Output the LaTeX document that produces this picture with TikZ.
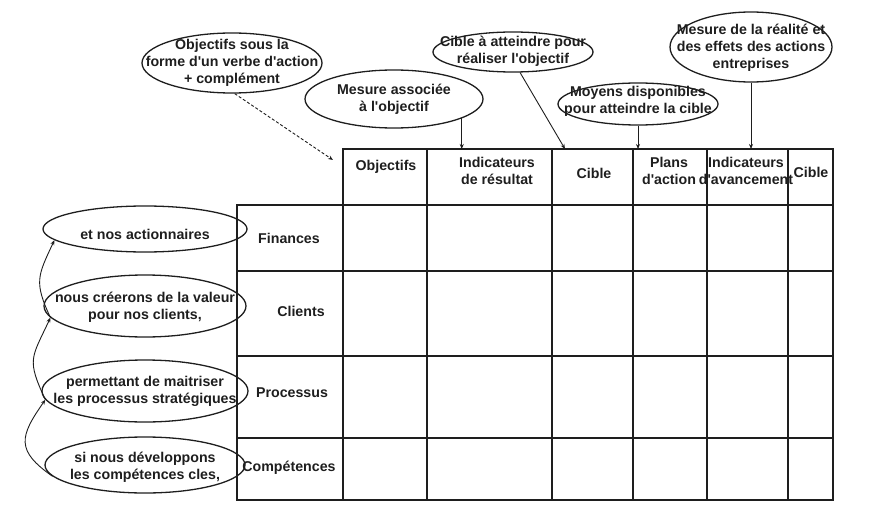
\documentclass[tikz,border=0pt]{standalone}
\usepackage{fontspec}
\setmainfont{Liberation Sans}[Ligatures=TeXOff]
\usetikzlibrary{shapes.geometric,arrows.meta}
\definecolor{ink}{HTML}{1E1E1E}
\begin{document}
\begin{tikzpicture}[x=1pt,y=1pt,
  every node/.style={font=\fontsize{14.2}{17}\selectfont\bfseries, text=ink},
  ell/.style={draw=ink, ellipse, line width=1.3pt, inner sep=0pt},
  lbl/.style={align=center, inner sep=0pt},
  grid/.style={draw=ink, line width=1.2pt},
  arr/.style={draw=ink, line width=0.9pt, -{Stealth[length=5pt,width=4pt]}},
]
\useasboundingbox (0,0) rectangle (872,-508);

% ---- table ----
\coordinate (tl) at (343,-149);
\draw[grid] (343,-149) rectangle (833,-500);
\draw[grid] (237,-205) rectangle (343,-500);
\foreach \y in {205,271,356,438} \draw[grid] (237,-\y) -- (833,-\y);
\foreach \x in {427,552,633,707,788} \draw[grid] (\x,-149) -- (\x,-500);

% header texts
\node[lbl] (h1) at (386,-167) {Objectifs};
\node[lbl] (h2) at (497,-171) {Indicateurs\\de résultat};
\node[lbl] (h3) at (594,-173) {Cible};
\node[lbl] (h4) at (669,-171) {Plans\\d'action};
\node[lbl] (h5) at (746,-171) {Indicateurs\\d'avancement};
\node[lbl] (h6) at (811,-172) {Cible};

% row labels
\node[lbl] (r1) at (289,-238) {Finances};
\node[lbl] (r2) at (301,-311) {Clients};
\node[lbl] (r3) at (292,-393) {Processus};
\node[lbl] (r4) at (289,-468) {Compétences};

% ---- top ellipses ----
\node[ell, minimum width=180pt, minimum height=60pt] (o1) at (232,-63) {};
\node[lbl] at (o1) {Objectifs sous la\\forme d'un verbe d'action\\+ complément};
\node[ell, minimum width=178pt, minimum height=58pt] (o2) at (394,-99) {};
\node[lbl] at (394,-99) {Mesure associée\\à l'objectif};
\node[ell, minimum width=160pt, minimum height=40pt] (o3) at (513,-52) {};
\node[lbl] at (513,-51) {Cible à atteindre pour\\réaliser l'objectif};
\node[ell, minimum width=160pt, minimum height=42pt] (o4) at (638,-104) {};
\node[lbl] at (638,-101) {Moyens disponibles\\pour atteindre la cible};
\node[ell, minimum width=162pt, minimum height=70pt] (o5) at (751,-47) {};
\node[lbl] at (751,-48) {Mesure de la réalité et\\des effets des actions\\entreprises};

\coordinate (p1) at (333,-160);
\coordinate (p3) at (565,-149);
\draw[arr, dash pattern=on 3pt off 2pt] (o1.-85) -- (p1);
\draw[arr] (o2.-16) -- (o2.-16 |- tl);
\draw[arr] (o3.-71) -- (p3);
\draw[arr] (o4.south) -- (o4.south |- tl);
\draw[arr] (o5.south) -- (o5.south |- tl);

% ---- left ellipses ----
\node[ell, minimum width=204pt, minimum height=46pt] (e1) at (145,-229) {};
\node[lbl] at (145,-234) {et nos actionnaires};
\node[ell, minimum width=202pt, minimum height=62pt] (e2) at (145,-306) {};
\node[lbl] at (145,-307) {nous créerons de la valeur\\pour nos clients,};
\node[ell, minimum width=206pt, minimum height=62pt] (e3) at (145,-391) {};
\node[lbl] at (145,-391) {permettant de maitriser\\les processus stratégiques};
\node[ell, minimum width=200pt, minimum height=56pt] (e4) at (145,-465) {};
\node[lbl] at (145,-467) {si nous développons\\les compétences cles,};

\draw[arr] (e4.187) to[out=145,in=235,looseness=1.5] (e3.185);
\draw[arr] (e3.185) to[out=115,in=245,looseness=1.4] (e2.187);
\draw[arr] (e2.187) to[out=115,in=245,looseness=1.3] (e1.187);
\end{tikzpicture}
\end{document}
